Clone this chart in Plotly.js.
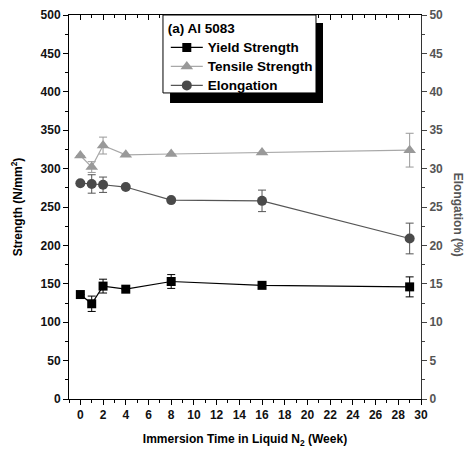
<!DOCTYPE html>
<html>
<head>
<meta charset="utf-8">
<script src="https://cdn.plot.ly/plotly-3.0.1.min.js"></script>
<style>html,body{margin:0;padding:0;background:#fff}#chart{width:472px;height:455px}</style>
</head>
<body>
<div id="chart"></div>
<script>
const weeks = [0, 1, 2, 4, 8, 16, 29];
const yieldStrength = [136, 124, 147, 143, 153, 148, 146];
const yieldErr = [0, 10, 9, 0, 9, 0, 13];
const tensileStrength = [317, 302, 330, 318, 319, 321, 324];
const tensileErr = [0, 7, 11, 0, 0, 0, 22];
const elongation = [28.1, 28.0, 27.9, 27.6, 25.9, 25.8, 20.9];
const elongationErr = [0, 1.2, 1.0, 0, 0, 1.4, 2.0];
const seriesNames = ['Yield Strength', 'Tensile Strength', 'Elongation'];
const legendTitle = '(a) Al 5083';

const F = 'Arial, "Liberation Sans", sans-serif';
const big = s => '<span style="font-size:13.5px">' + s + '</span>';

const traces = [
  {
    x: weeks, y: yieldStrength, name: big(seriesNames[0]), type: 'scatter', mode: 'lines+markers',
    line: {color: '#000', width: 1.2},
    marker: {symbol: 'square', size: 9, color: '#000'},
    error_y: {type: 'data', array: yieldErr, visible: true, color: '#000', thickness: 1, width: 4}
  },
  {
    x: weeks, y: tensileStrength, name: big(seriesNames[1]), type: 'scatter', mode: 'lines+markers',
    line: {color: '#a8a8a8', width: 1.2},
    marker: {symbol: 'triangle-up', size: 11, color: '#999'},
    error_y: {type: 'data', array: tensileErr, visible: true, color: '#999', thickness: 1, width: 4}
  },
  {
    x: weeks, y: elongation, name: big(seriesNames[2]), type: 'scatter', mode: 'lines+markers', yaxis: 'y2',
    line: {color: '#555', width: 1.2},
    marker: {symbol: 'circle', size: 10, color: '#4a4a4a'},
    error_y: {type: 'data', array: elongationErr, visible: true, color: '#555', thickness: 1, width: 4}
  },
  {
    x: [null], y: [null], xaxis: 'x2', type: 'scatter', mode: 'markers', showlegend: false, hoverinfo: 'skip'
  }
];

const tickFont = {family: F, size: 12, color: '#111', weight: 'bold'};

const layout = {
  width: 472, height: 455,
  margin: {l: 69, r: 51, t: 15, b: 56},
  paper_bgcolor: '#fff', plot_bgcolor: '#fff',
  showlegend: true,
  legend: {
    x: 0.275, y: 0.99, xanchor: 'left', yanchor: 'top',
    bgcolor: 'rgba(0,0,0,0)', borderwidth: 0,
    font: {family: F, size: 10.8, color: '#000', weight: 'bold'},
    title: {text: big(legendTitle), font: {family: F, size: 10.8, color: '#000', weight: 'bold'}},
    tracegroupgap: 0, itemwidth: 32
  },
  xaxis: {
    range: [-1, 30], tickmode: 'linear', tick0: 0, dtick: 2,
    ticks: 'outside', ticklen: 5, tickwidth: 1, tickcolor: '#000',
    minor: {dtick: 1, tick0: 0, ticks: 'outside', ticklen: 3, tickwidth: 1, tickcolor: '#000'},
    showline: true, linecolor: '#000', linewidth: 1, showgrid: false, zeroline: false,
    tickfont: tickFont,
    title: {text: 'Immersion Time in Liquid N<sub>2</sub> (Week)', font: {family: F, size: 12, color: '#000', weight: 'bold'}, standoff: 13}
  },
  xaxis2: {
    overlaying: 'x', side: 'top', anchor: 'y', range: [-1, 30], tickmode: 'linear', tick0: 0, dtick: 2,
    ticks: 'inside', ticklen: 5, tickwidth: 1, tickcolor: '#000',
    minor: {dtick: 1, tick0: 0, ticks: 'inside', ticklen: 3, tickwidth: 1, tickcolor: '#000'},
    showline: true, linecolor: '#000', linewidth: 1, showgrid: false, zeroline: false,
    showticklabels: false
  },
  yaxis: {
    range: [0, 500], tickmode: 'linear', tick0: 0, dtick: 50,
    ticks: 'outside', ticklen: 5, tickwidth: 1, tickcolor: '#000',
    minor: {dtick: 25, tick0: 0, ticks: 'outside', ticklen: 3, tickwidth: 1, tickcolor: '#000'},
    showline: true, linecolor: '#000', linewidth: 1, showgrid: false, zeroline: false,
    tickfont: tickFont,
    title: {text: 'Strength (N/mm<sup>2</sup>)', font: {family: F, size: 12, color: '#000', weight: 'bold'}, standoff: 15}
  },
  yaxis2: {
    overlaying: 'y', side: 'right', range: [0, 50], tickmode: 'linear', tick0: 0, dtick: 5,
    ticks: 'outside', ticklen: 5, tickwidth: 1, tickcolor: '#444',
    minor: {dtick: 2.5, tick0: 0, ticks: 'outside', ticklen: 3, tickwidth: 1, tickcolor: '#444'},
    showline: true, linecolor: '#333', linewidth: 1, showgrid: false, zeroline: false,
    tickfont: {family: F, size: 12, color: '#555', weight: 'bold'}
  },
  annotations: [
    {text: 'Elongation (%)', textangle: 90, xref: 'paper', yref: 'paper', x: 1.105, y: 0.48,
     xanchor: 'center', yanchor: 'middle', showarrow: false,
     font: {family: F, size: 12, color: '#555', weight: 'bold'}}
  ],
  shapes: [
    {type: 'rect', xref: 'paper', yref: 'paper', x0: 0.287, x1: 0.7216, y0: 0.771, y1: 0.979,
     fillcolor: '#000', line: {width: 0}, layer: 'above'},
    {type: 'rect', xref: 'paper', yref: 'paper', x0: 0.267, x1: 0.7017, y0: 0.797, y1: 1.0,
     fillcolor: '#fff', line: {width: 1, color: '#000'}, layer: 'above'}
  ]
};

Plotly.newPlot('chart', traces, layout, {displayModeBar: false, staticPlot: true});
</script>
</body>
</html>
